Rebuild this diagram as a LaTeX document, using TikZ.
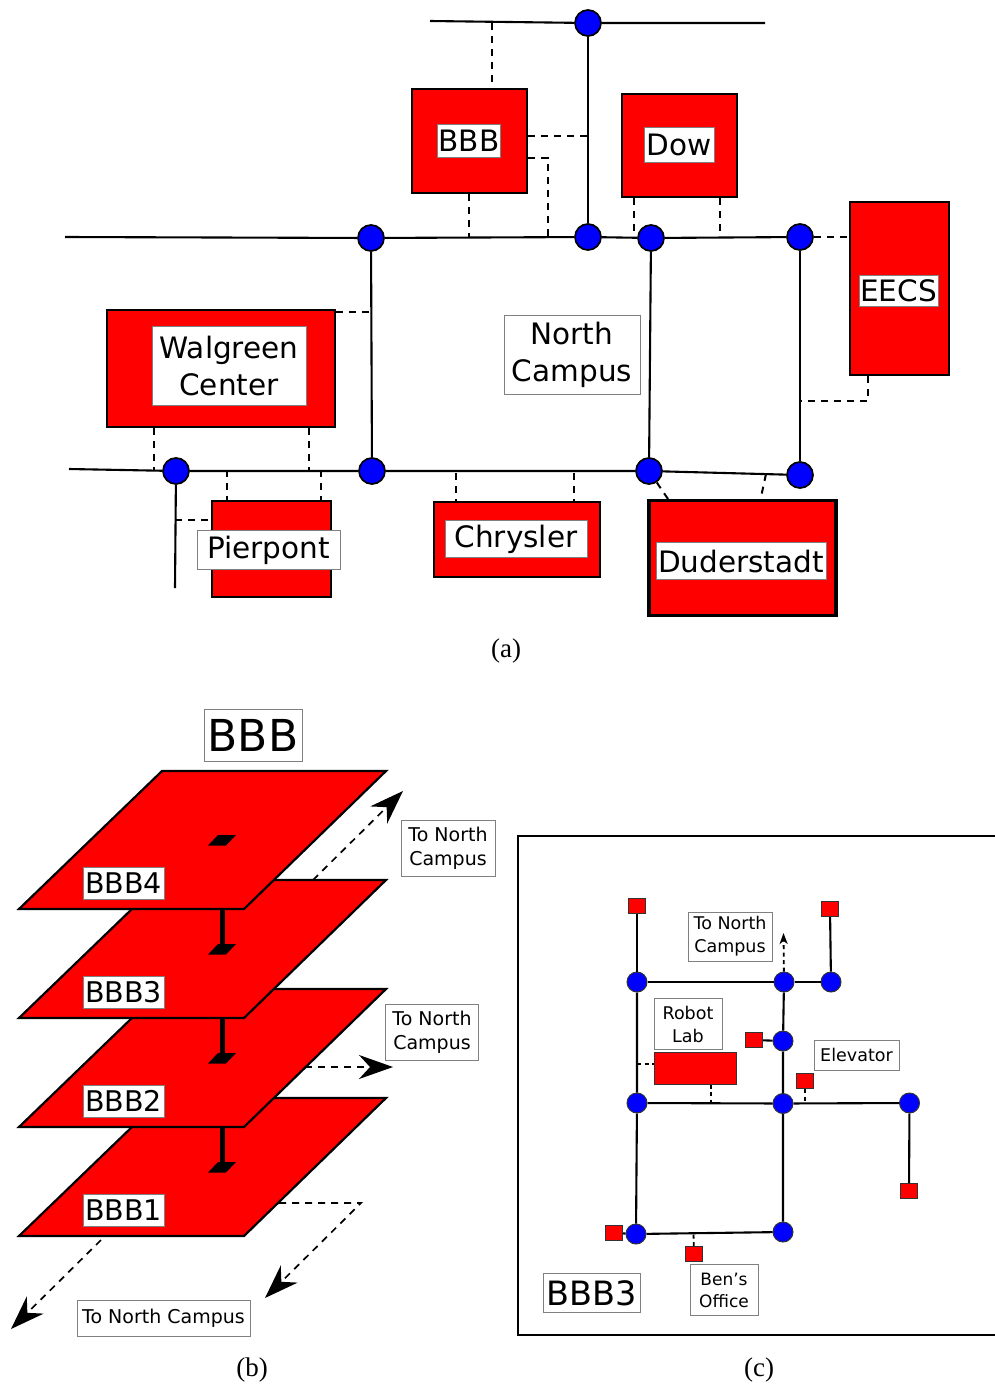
\documentclass[tikz,border=0pt]{standalone}
\usepackage{fontspec}
\setmainfont{DejaVu Sans}
\newfontfamily\capfont{Liberation Serif}
\usetikzlibrary{arrows.meta,calc}

\begin{document}
\begin{tikzpicture}[
  x=1pt, y=-1pt,
  building/.style={rectangle, draw=black, fill=red, line width=2.4pt, inner sep=0pt},
  room/.style={rectangle, draw=black!80, fill=red, line width=1pt, inner sep=0pt, minimum width=17pt, minimum height=15pt},
  junction/.style={circle, draw=black, fill=blue, line width=1.7pt, inner sep=0pt, minimum size=26pt},
  small junction/.style={circle, draw=black!80, fill=blue, line width=1pt, inner sep=0pt, minimum size=20pt},
  place label/.style={rectangle, draw=black!50, fill=white, line width=1pt, inner sep=0pt, align=center, font=\fontsize{29.5}{37}\selectfont},
  floor label/.style={place label, minimum width=81pt, minimum height=32pt, font=\fontsize{28.5}{34}\selectfont},
  note label/.style={place label, font=\fontsize{19}{24}\selectfont},
  inner label/.style={place label, font=\fontsize{17.5}{23}\selectfont},
  road/.style={draw=black, line width=2.1pt},
  link/.style={draw=black, line width=2pt, dash pattern=on 7pt off 6pt},
  inner link/.style={draw=black, line width=1.8pt, dash pattern=on 4pt off 3.5pt},
  floor/.style={draw=black, fill=red, line width=2.2pt, line join=miter},
  stair/.style={fill=black},
  caption/.style={font=\capfont\fontsize{27}{30}\selectfont},
  >={Stealth[length=34pt, width=24pt, inset=11pt]}
]
  \useasboundingbox (0,0) rectangle (995,1384);

  % (a) campus map: buildings
  \node[building, minimum width=115pt, minimum height=104pt] (bbb) at (469.5, 141) {};
  \node[building, minimum width=115pt, minimum height=103pt] (dow) at (679.5, 145.5) {};
  \node[building, minimum width=99pt, minimum height=173pt, line width=2.8pt] (eecs) at (899.5, 288.5) {};
  \node[building, minimum width=228pt, minimum height=117pt] (walgreen) at (221, 368.5) {};
  \node[building, minimum width=119pt, minimum height=96pt] (pierpont) at (271.5, 549) {};
  \node[building, minimum width=166pt, minimum height=75pt] (chrysler) at (517, 539.5) {};
  \node[building, minimum width=187pt, minimum height=115pt, line width=3.8pt] (duderstadt) at (742.5, 558) {};

  % building names
  \node[place label, minimum width=63pt, minimum height=33pt] (bbb name) at (469, 140.5) {BBB};
  \node[place label, minimum width=70pt, minimum height=35pt] (dow name) at (679, 145) {Dow};
  \node[place label, minimum width=79pt, minimum height=31pt] (eecs name) at (898.5, 290.5) {EECS};
  \node[place label, minimum width=154pt, minimum height=79pt] (walgreen name) at (229, 366) {Walgreen\\Center};
  \node[place label, minimum width=136pt, minimum height=79pt] (north name) at (572, 355) {North\\Campus};
  \node[place label, minimum width=143pt, minimum height=39pt] (pierpont name) at (268.5, 550) {Pierpont};
  \node[place label, minimum width=142pt, minimum height=37pt] (chrysler name) at (516, 539) {Chrysler};
  \node[place label, minimum width=170pt, minimum height=37pt] (duderstadt name) at (741, 561) {Duderstadt};

  % junctions
  \node[junction] (top) at (588, 23) {};
  \node[junction] (mid a) at (371, 238) {};
  \node[junction] (mid b) at (588, 237) {};
  \node[junction] (mid c) at (651, 238) {};
  \node[junction] (mid d) at (800, 237) {};
  \node[junction] (low a) at (176, 471) {};
  \node[junction] (low b) at (372, 471) {};
  \node[junction] (low c) at (649, 471) {};
  \node[junction] (low d) at (800, 475) {};

  % free road ends and points where the dashed links meet a road
  \coordinate (top west) at (430, 21);
  \coordinate (top east) at (765, 23);
  \coordinate (mid west) at (65, 237);
  \coordinate (low west) at (69, 469);
  \coordinate (low south) at (175, 588);
  \coordinate (bbb up) at (492, 23);
  \coordinate (bbb side) at (588, 136);
  \coordinate (bbb bend) at (548, 158);
  \coordinate (bbb foot) at (548, 237);
  \coordinate (bbb down) at (469, 237);
  \coordinate (dow left) at (633.5, 237);
  \coordinate (dow right) at (720, 237);
  \coordinate (eecs bend) at (868, 401);
  \coordinate (eecs foot) at (800, 401);
  \coordinate (walgreen side) at (371, 312);
  \coordinate (walgreen left) at (154, 470);
  \coordinate (walgreen right) at (309, 470);
  \coordinate (pierpont left) at (227, 470);
  \coordinate (pierpont right) at (321, 470);
  \coordinate (pierpont side) at (175, 520);
  \coordinate (chrysler left) at (456, 473);
  \coordinate (chrysler right) at (574, 473);
  \coordinate (duderstadt left) at (668, 499);
  \coordinate (duderstadt right) at (761, 497);
  \coordinate (road right) at (766, 474);

  % roads
  \draw[road] (top west) -- (top) -- (top east);
  \draw[road] (mid west) -- (mid a) -- (mid b) -- (mid c) -- (mid d);
  \draw[road] (top) -- (mid b);
  \draw[road] (mid a) -- (low b);
  \draw[road] (mid c) -- (low c);
  \draw[road] (mid d) -- (low d);
  \draw[road] (low west) -- (low a) -- (low b) -- (low c) -- (low d);
  \draw[road] (low a) -- (low south);

  % links from buildings to roads
  \draw[link] (bbb up) -- (bbb up |- bbb.north);
  \draw[link] (bbb.east |- bbb side) -- (bbb side);
  \draw[link] (bbb.east |- bbb bend) -- (bbb bend) -- (bbb foot);
  \draw[link] (bbb down |- bbb.south) -- (bbb down);
  \draw[link] (dow left |- dow.south) -- (dow left);
  \draw[link] (dow right |- dow.south) -- (dow right);
  \draw[link] (mid d) -- (eecs.west |- mid d);
  \draw[link] (eecs bend |- eecs.south) -- (eecs bend) -- (eecs foot);
  \draw[link] (walgreen.east |- walgreen side) -- (walgreen side);
  \draw[link] (walgreen left |- walgreen.south) -- (walgreen left);
  \draw[link] (walgreen right |- walgreen.south) -- (walgreen right);
  \draw[link] (pierpont left) -- (pierpont left |- pierpont.north);
  \draw[link] (pierpont right) -- (pierpont right |- pierpont.north);
  \draw[link] (pierpont side) -- (pierpont.west |- pierpont side);
  \draw[link] (chrysler left) -- (chrysler left |- chrysler.north);
  \draw[link] (chrysler right) -- (chrysler right |- chrysler.north);
  \draw[link] (low c) -- (duderstadt left);
  \draw[link] (road right) -- (duderstadt right);

  \node[caption] (cap a) at (506, 651) {(a)};

  % (b) floors, lowest first
  \draw[floor] (162, 1098) -- (386, 1098) -- (244, 1236) -- (19, 1236) -- cycle;
  \draw[floor] (162, 989) -- (386, 989) -- (244, 1127) -- (19, 1127) -- cycle;
  \draw[floor] (162, 880) -- (386, 880) -- (244, 1018) -- (19, 1018) -- cycle;
  \draw[floor] (162, 771) -- (386, 771) -- (244, 909) -- (19, 909) -- cycle;

  % stair wells
  \fill[stair] (208, 845.5) -- (218, 835) -- (236, 835) -- (226, 845.5) -- cycle;
  \fill[stair] (208, 954.5) -- (218, 944) -- (236, 944) -- (226, 954.5) -- cycle;
  \fill[stair] (208, 1063.5) -- (218, 1053) -- (236, 1053) -- (226, 1063.5) -- cycle;
  \fill[stair] (208, 1172.5) -- (218, 1162) -- (236, 1162) -- (226, 1172.5) -- cycle;
  \draw[black, line width=4.5pt] (222.5, 910) -- (222.5, 946);
  \draw[black, line width=4.5pt] (222.5, 1019) -- (222.5, 1055);
  \draw[black, line width=4.5pt] (222.5, 1128) -- (222.5, 1164);

  \node[place label, minimum width=98pt, minimum height=52pt, font=\fontsize{44}{48}\selectfont] (bbb title) at (253, 735.5) {BBB};
  \node[floor label] (bbb4) at (123.5, 883) {BBB4};
  \node[floor label] (bbb3) at (123.5, 992) {BBB3};
  \node[floor label] (bbb2) at (123.5, 1101) {BBB2};
  \node[floor label] (bbb1) at (123.5, 1210) {BBB1};

  \node[note label, minimum width=94pt, minimum height=56pt] (to north a) at (448, 848) {To North\\Campus};
  \node[note label, minimum width=93pt, minimum height=56pt] (to north b) at (432, 1032) {To North\\Campus};
  \node[note label, minimum width=173pt, minimum height=36pt] (to north c) at (163.5, 1318) {To North Campus};

  % ways out of the building
  \coordinate (out a start) at (313, 880);
  \coordinate (out a end) at (403, 791);
  \coordinate (out b start) at (305, 1067);
  \coordinate (out b end) at (393, 1067);
  \coordinate (out c start) at (279, 1203);
  \coordinate (out c bend) at (361, 1203);
  \coordinate (out c end) at (265, 1298);
  \coordinate (out d start) at (101, 1240);
  \coordinate (out d end) at (11, 1329);
  \draw[link, line width=1.7pt, ->] (out a start) -- (out a end);
  \draw[link, line width=1.7pt, ->] (out b start) -- (out b end);
  \draw[link, line width=1.7pt, ->] (out c start) -- (out c bend) -- (out c end);
  \draw[link, line width=1.7pt, ->] (out d start) -- (out d end);

  \node[caption] (cap b) at (252, 1370) {(b)};

  % (c) floor plan, open on the right
  \coordinate (frame ne) at (995, 836);
  \coordinate (frame nw) at (518, 836);
  \coordinate (frame sw) at (518, 1335);
  \coordinate (frame se) at (995, 1335);
  \draw[black, line width=1.8pt] (frame ne) -- (frame nw) -- (frame sw) -- (frame se);

  \node[small junction] (c1) at (637, 982) {};
  \node[small junction] (c2) at (784, 982) {};
  \node[small junction] (c3) at (831, 982) {};
  \node[small junction] (c4) at (783, 1041) {};
  \node[small junction] (c5) at (637, 1103) {};
  \node[small junction] (c6) at (783, 1103.5) {};
  \node[small junction] (c7) at (909.5, 1103) {};
  \node[small junction] (c8) at (636, 1234) {};
  \node[small junction] (c9) at (783, 1232) {};

  \node[room] (r1) at (637, 906) {};
  \node[room] (r2) at (830, 909) {};
  \node[room] (r3) at (754, 1040) {};
  \node[room] (r4) at (805, 1081) {};
  \node[room] (r5) at (909, 1191) {};
  \node[room] (r6) at (614, 1233) {};
  \node[room] (r7) at (694, 1254) {};
  \node[room, minimum width=82pt, minimum height=32pt] (robot lab) at (695, 1068) {};

  \draw[road] (r1) -- (c1);
  \draw[road] (r2) -- (c3);
  \draw[road] (c1) -- (c2) -- (c3);
  \draw[road] (c1) -- (c5) -- (c8);
  \draw[road] (c2) -- (c4) -- (c6) -- (c9);
  \draw[road] (r3) -- (c4);
  \draw[road] (c5) -- (c6) -- (c7);
  \draw[road] (c7) -- (r5);
  \draw[road] (r6) -- (c8);
  \draw[road] (c8) -- (c9);

  \coordinate (lab side) at (637, 1064);
  \coordinate (lab foot) at (711, 1103);
  \coordinate (lift foot) at (805, 1103);
  \coordinate (office top) at (693.5, 1233);
  \coordinate (north way) at (783.5, 933);
  \draw[inner link] (lab side) -- (robot lab.west |- lab side);
  \draw[inner link] (lab foot |- robot lab.south) -- (lab foot);
  \draw[inner link] (r4) -- (lift foot);
  \draw[inner link] (r7) -- (office top);
  \draw[inner link, -{Stealth[length=11pt, width=8pt, inset=3pt]}] (c2) -- (north way);

  \node[inner label, minimum width=84pt, minimum height=49pt] (to north d) at (730, 936.5) {To North\\Campus};
  \node[inner label, minimum width=68pt, minimum height=51pt] (robot name) at (688, 1024) {Robot\\Lab};
  \node[inner label, minimum width=85pt, minimum height=30pt] (lift name) at (856.5, 1055) {Elevator};
  \node[place label, minimum width=97pt, minimum height=39pt, font=\fontsize{33.5}{38}\selectfont] (floor name) at (591.5, 1293) {BBB3};
  \node[inner label, minimum width=68pt, minimum height=51pt, font=\fontsize{17}{22}\selectfont] (office name) at (724, 1290) {Ben's\\Office};

  \node[caption] (cap c) at (759, 1370) {(c)};
\end{tikzpicture}
\end{document}
